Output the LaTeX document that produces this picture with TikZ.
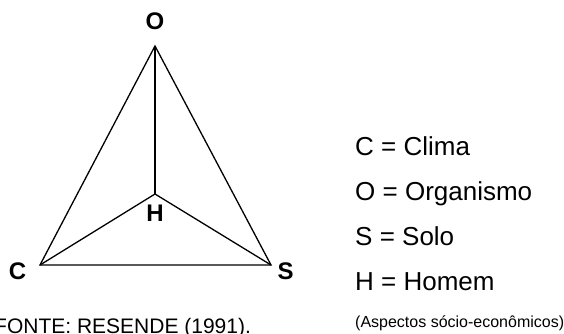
\documentclass[tikz,border=0pt]{standalone}
\usepackage{fontspec}
\setmainfont{Liberation Sans}
\begin{document}
\begin{tikzpicture}[x=1pt,y=-1pt,
  edge/.style={line width=1.3pt},
  vlabel/.style={font=\fontsize{24}{28}\selectfont\bfseries, inner sep=0pt},
  legend/.style={font=\fontsize{26}{30}\selectfont, inner sep=0pt, anchor=base west},
  smalltext/.style={font=\fontsize{16}{19}\selectfont, inner sep=0pt, anchor=base west},
  source/.style={font=\fontsize{21}{25}\selectfont, inner sep=0pt, anchor=base west}]
\useasboundingbox (0,0) rectangle (564,334);
\coordinate (o) at (155,46);
\coordinate (h) at (155,194);
\coordinate (c) at (40,265);
\coordinate (s) at (271,265);
\draw[edge] (c) -- (o) -- (s) -- cycle;
\draw[edge] (o) -- (h);
\draw[edge] (c) -- (h) -- (s);
\node[vlabel] (lo) at (155,21) {O};
\node[vlabel] (lh) at (155,213.5) {H};
\node[vlabel] (lc) at (17.5,271.5) {C};
\node[vlabel] (ls) at (285.5,271.5) {S};
\node[legend] (l1) at (355,155) {C = Clima};
\node[legend] (l2) at (355,200) {O = Organismo};
\node[legend] (l3) at (355,245) {S = Solo};
\node[legend] (l4) at (355,290) {H = Homem};
\node[smalltext] (l5) at (355,327) {(Aspectos sócio-econômicos)};
\node[source] (src) at (-6,333) {FONTE: RESENDE (1991).};
\end{tikzpicture}
\end{document}
